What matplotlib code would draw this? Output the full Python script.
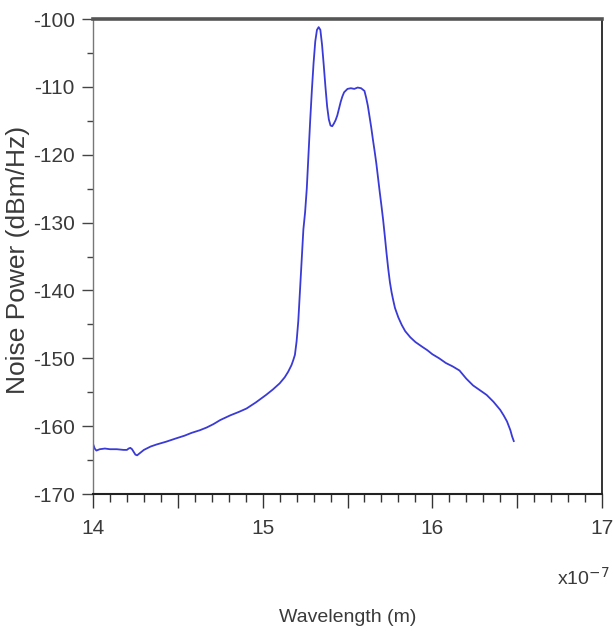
import matplotlib
matplotlib.use("Agg")
import matplotlib.pyplot as plt
from matplotlib.ticker import MultipleLocator, FuncFormatter

wavelength = [14.00, 14.01, 14.02, 14.04, 14.07, 14.10, 14.14, 14.18, 14.20, 14.21,
              14.22, 14.23, 14.24, 14.25, 14.26, 14.28, 14.30, 14.34, 14.375, 14.43,
              14.49, 14.54, 14.58, 14.63, 14.67, 14.71, 14.75, 14.81, 14.86, 14.905,
              14.96, 15.02, 15.06, 15.10, 15.13, 15.15, 15.17, 15.18, 15.19, 15.20,
              15.21, 15.22, 15.23, 15.24, 15.25, 15.26, 15.27, 15.28, 15.29, 15.30,
              15.31, 15.32, 15.33, 15.34, 15.35, 15.36, 15.37, 15.38, 15.39, 15.40,
              15.41, 15.42, 15.43, 15.44, 15.45, 15.46, 15.47, 15.48, 15.50, 15.52,
              15.54, 15.56, 15.58, 15.60, 15.61, 15.62, 15.63, 15.64, 15.65, 15.66,
              15.67, 15.68, 15.69, 15.70, 15.71, 15.72, 15.73, 15.74, 15.75, 15.76,
              15.77, 15.78, 15.80, 15.82, 15.84, 15.87, 15.90, 15.94, 15.97, 16.00,
              16.04, 16.08, 16.12, 16.16, 16.20, 16.24, 16.28, 16.32, 16.36, 16.40,
              16.42, 16.44, 16.46, 16.47, 16.48]
noise_power = [-162.6, -163.3, -163.6, -163.4, -163.3, -163.4, -163.4, -163.5, -163.5, -163.3,
               -163.2, -163.4, -163.8, -164.2, -164.3, -163.9, -163.5, -163.0, -162.7, -162.3,
               -161.8, -161.4, -161.0, -160.6, -160.2, -159.7, -159.1, -158.4, -157.9, -157.4,
               -156.5, -155.4, -154.6, -153.7, -152.8, -152.0, -151.0, -150.3, -149.5, -147.5,
               -144.5, -140.0, -135.5, -131.0, -128.5, -125.0, -120.0, -115.0, -110.5, -106.5,
               -103.3, -101.6, -101.2, -101.6, -103.8, -106.8, -110.0, -112.9, -114.8, -115.7,
               -115.8, -115.4, -114.9, -114.2, -113.2, -112.2, -111.4, -110.8, -110.3, -110.2,
               -110.3, -110.1, -110.2, -110.6, -111.6, -112.8, -114.4, -116.0, -117.8, -119.5,
               -121.3, -123.4, -125.5, -127.5, -129.6, -132.0, -134.5, -136.8, -138.8, -140.3,
               -141.5, -142.6, -144.0, -145.1, -146.0, -146.9, -147.6, -148.3, -148.8, -149.4,
               -150.0, -150.7, -151.2, -151.8, -153.0, -154.0, -154.7, -155.4, -156.4, -157.6,
               -158.4, -159.3, -160.6, -161.5, -162.2]

x_ticks = [14, 15, 16, 17]
y_ticks = [-170, -160, -150, -140, -130, -120, -110, -100]

plt.rcParams['axes.unicode_minus'] = False

FONT = ['Liberation Sans', 'DejaVu Sans']
TXT = '#3a3a3a'

fig = plt.figure(figsize=(6.13, 6.32), dpi=100)
ax = fig.add_axes([93/613, 1-494/632, 509/613, 475/632])

ax.plot(wavelength, noise_power, color='#3a3ad6', lw=1.3)

ax.set_xlim(14, 17)
ax.set_ylim(-170, -100)

ax.xaxis.set_major_locator(MultipleLocator(0.5))
ax.xaxis.set_minor_locator(MultipleLocator(0.1))
ax.xaxis.set_major_formatter(FuncFormatter(
    lambda v, p: f"{int(round(v))}" if abs(v - round(v)) < 1e-6 else ""))
ax.set_yticks(y_ticks)
ax.yaxis.set_minor_locator(MultipleLocator(5))

ax.tick_params(axis='x', which='major', direction='out', length=10, width=1.0, color='#333333',
               pad=8, labelcolor=TXT, labelsize=15)
ax.tick_params(axis='x', which='minor', direction='out', length=6, width=1.0, color='#333333')
ax.tick_params(axis='y', which='major', direction='out', length=8, width=1.0, color='#444444',
               pad=5, labelcolor=TXT, labelsize=15)
ax.tick_params(axis='y', which='minor', direction='out', length=4, width=1.0, color='#444444')
ax.tick_params(top=False, right=False, which='both')

for lab in ax.get_xticklabels() + ax.get_yticklabels():
    lab.set_family(FONT)

ax.spines['top'].set_linewidth(2.6)
ax.spines['top'].set_color('#555555')
ax.spines['right'].set_linewidth(1.4)
ax.spines['right'].set_color('#333333')
ax.spines['left'].set_linewidth(1.0)
ax.spines['left'].set_color('#777777')
ax.spines['bottom'].set_linewidth(1.5)
ax.spines['bottom'].set_color('#222222')

fig.text(348/613, 1-618/632, 'Wavelength (m)', ha='center', va='center',
         fontsize=14, color=TXT, family=FONT)
fig.text(583/613, 1-578/632, 'x10$^{-7}$', ha='center', va='center',
         fontsize=14, color=TXT, family=FONT)
fig.text(18/613, 1-260/632, 'Noise Power (dBm/Hz)', ha='center', va='center',
         rotation=90, fontsize=19, color=TXT, family=FONT)

fig.savefig('out.png', dpi=100)
